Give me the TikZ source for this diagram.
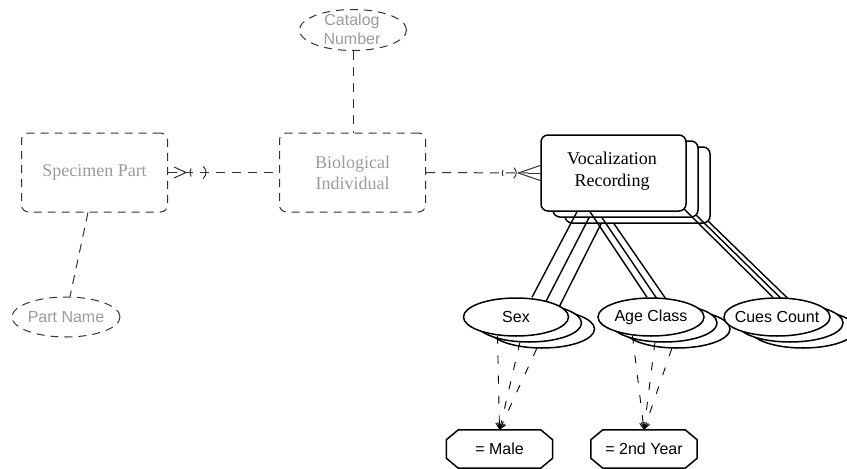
\documentclass[tikz,border=0pt]{standalone}
\usepackage{fontspec}
\setmainfont{Liberation Serif}
\setsansfont{Liberation Sans}
\usetikzlibrary{shapes.geometric,arrows.meta}
\definecolor{ghost}{RGB}{155,155,155}
\definecolor{dline}{RGB}{50,50,50}
\pgfdeclarelayer{back}
\pgfdeclarelayer{mid}
\pgfsetlayers{back,mid,main}
\begin{document}
\begin{tikzpicture}[x=1pt,y=-1pt,
  ent/.style={draw, rounded corners=7pt, line width=1.5pt, fill=white, minimum width=145pt, minimum height=76pt, inner sep=0pt},
  gent/.style={draw=dline, dash pattern=on 8pt off 6pt, rounded corners=7pt, line width=1pt, minimum width=146pt, minimum height=79pt, inner sep=0pt, text=ghost, font=\fontsize{18}{21}\selectfont, align=center},
  attr/.style={draw, ellipse, line width=1.5pt, fill=white, minimum width=105pt, minimum height=38pt, inner sep=0pt},
  gattr/.style={draw=dline, ellipse, dash pattern=on 8pt off 6pt, line width=1pt, minimum width=107pt, minimum height=41pt, inner sep=0pt},
  atext/.style={font=\sffamily\fontsize{16}{19}\selectfont, align=center, inner sep=0pt},
  etext/.style={font=\fontsize{18}{22}\selectfont, align=center, inner sep=0pt},
  valbox/.style={minimum width=106pt, minimum height=38pt, inner sep=0pt, font=\sffamily\fontsize{16}{19}\selectfont},
  valline/.style={line width=1.5pt, line join=miter},
  link/.style={line width=1.4pt},
  vlink/.style={line width=0.9pt, dash pattern=on 8pt off 12pt, -{Straight Barb[length=6pt,width=7pt]}},
  glink/.style={draw=dline, line width=1pt, dash pattern=on 9pt off 7pt},
  gmark/.style={draw=dline, line width=1pt},
]
\useasboundingbox (0,0) rectangle (847,469);

% ghost entities and attributes
\node[gent] (sp) at (94.5,172.5) {Specimen Part};
\node[gent] (bi) at (352.5,172.5) {Biological\\Individual};
\node[gattr] (cat) at (353,30) {};
\node[atext, text=ghost] (catt) at (352,29) {Catalog\\Number};
\node[gattr, minimum width=108pt, minimum height=40pt] (pn) at (66,317) {};
\node[atext, text=ghost] (pnt) at (pn) {Part Name};

% ghost connectors
\draw[glink] (cat.south) -- (cat.south |- bi.north);
\draw[glink] ([xshift=-6.5pt]sp.south) -- ([xshift=4pt]pn.north);
\draw[glink] (sp.east) -- (bi.west);
\draw[gmark] ([xshift=6pt,yshift=5.5pt]sp.east) -- ([xshift=18pt]sp.east) -- ([xshift=6pt,yshift=-5.5pt]sp.east);
\coordinate (spo) at ([xshift=30pt]sp.east);
\draw[gmark] ([shift={(150:8pt)}]spo) arc[start angle=150, end angle=210, radius=8pt];
\draw[gmark] ([shift={(-50:8pt)}]spo) arc[start angle=-50, end angle=50, radius=8pt];

% multi-instance entity
\begin{pgfonlayer}{back}
\node[ent] (voc3) at (637.5,185) {};
\node[ent] (voc2) at (625.5,179) {};
\node[ent] (voc1) at (613.5,173) {};
\node[etext] (voct) at (612,171) {Vocalization\\Recording};
\end{pgfonlayer}

\draw[glink] (bi.east) -- ([xshift=-12pt]voc1.west);
\draw[gmark] ([xshift=-12pt]voc1.west) -- (voc1.west);
\draw[gmark] ([yshift=7.5pt]voc1.west) -- ([xshift=-22pt]voc1.west) -- ([yshift=-7.5pt]voc1.west);
\coordinate (vco) at ([xshift=-31pt]voc1.west);
\draw[gmark] ([shift={(155:7pt)}]vco) arc[start angle=155, end angle=205, radius=7pt];
\draw[gmark] ([shift={(-50:7pt)}]vco) arc[start angle=-50, end angle=50, radius=7pt];

% attribute stacks
\node[attr] (sex3) at (542,329) {};
\node[attr] (sex2) at (529,323) {};
\node[attr] (sex1) at (516,317) {};
\node[atext] (sext) at (sex1) {Sex};
\node[attr, minimum width=106pt] (age3) at (677,329) {};
\node[attr, minimum width=106pt] (age2) at (664,323) {};
\node[attr, minimum width=106pt] (age1) at (651,317) {};
\node[atext] (aget) at (age1) {Age Class};
\node[attr, minimum width=106pt] (cue3) at (803,329) {};
\node[attr, minimum width=106pt] (cue2) at (790,323) {};
\node[attr, minimum width=106pt] (cue1) at (777,317) {};
\node[atext] (cuet) at (cue1) {Cues Count};

% links entity -> attributes
\begin{pgfonlayer}{mid}
\foreach \i in {1,2,3}{
  \draw[link] ([xshift=-36.5pt]voc\i.south) -- ([xshift=16pt]sex\i.north);
  \draw[link] ([xshift=-23.5pt]voc\i.south) -- ([xshift=-4pt]age\i.north);
  \draw[link] ([xshift=-3pt,yshift=3pt]voc\i.south east) -- ([xshift=-4pt]cue\i.north);
}
\end{pgfonlayer}

% values
\node[valbox] (male) at (499.5,449) {= Male};
\node[valbox] (year) at (644,449) {= 2nd Year};
\foreach \v in {male,year}{
  \draw[valline] ([xshift=12pt]\v.north west) -- ([xshift=-12pt]\v.north east)
    -- ([yshift=-10pt]\v.north east) -- ([yshift=10pt]\v.south east)
    -- ([xshift=-12pt]\v.south east) -- ([xshift=12pt]\v.south west)
    -- ([yshift=10pt]\v.south west) -- ([yshift=-10pt]\v.north west) -- cycle;
}
\draw[vlink] (sex1.225) -- (male.north);
\draw[vlink] (sex2.245) -- (male.north);
\draw[vlink] (sex3.255) -- (male.north);
\draw[vlink] (age1.225) -- (year.north);
\draw[vlink] (age2.245) -- (year.north);
\draw[vlink] (age3.255) -- (year.north);
\end{tikzpicture}
\end{document}
